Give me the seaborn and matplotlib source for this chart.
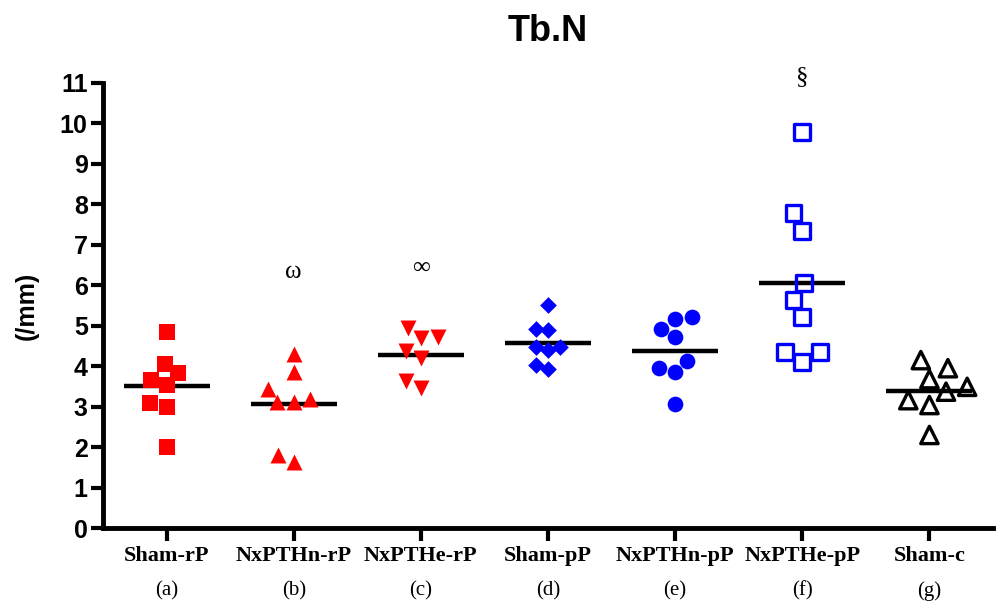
import numpy as np
import pandas as pd
import matplotlib
matplotlib.use("Agg")
import matplotlib.pyplot as plt
import matplotlib.transforms as mtransforms
import seaborn as sns

# ---------- Data ----------
GROUPS = ["Sham-rP", "NxPTHn-rP", "NxPTHe-rP", "Sham-pP", "NxPTHn-pP", "NxPTHe-pP", "Sham-c"]
LETTERS = ["(a)", "(b)", "(c)", "(d)", "(e)", "(f)", "(g)"]

sham_rp = [4.85, 4.05, 3.66, 3.82, 3.54, 3.08, 3.00, 2.01]
nx_n_rp = [4.30, 3.85, 3.44, 3.11, 3.11, 3.19, 1.64, 1.80]
nx_e_rp = [4.71, 4.94, 4.69, 4.38, 4.19, 3.64, 3.45]
sham_pp = [5.51, 4.91, 4.89, 4.40, 4.48, 4.48, 3.93, 4.02]
nx_n_pp = [5.17, 5.21, 4.91, 4.71, 3.96, 3.86, 4.14, 3.06]
nx_e_pp = [9.80, 7.78, 7.35, 6.05, 5.64, 5.21, 4.34, 4.10, 4.34]
sham_c = [4.15, 3.95, 3.68, 3.49, 3.16, 3.37, 3.04, 2.30]

ANNOT_GROUPS = ["NxPTHn-rP", "NxPTHe-rP", "NxPTHe-pP"]
ANNOT_SYMBOLS = ["ω", "∞", "§"]
ANNOT_Y = [6.33, 6.43, 11.15]

# ---------- Styles ----------
MARKERS = ["s", "^", "v", "D", "o", "s", "^"]
COLORS = ["#ff0000", "#ff0000", "#ff0000", "#0000ff", "#0000ff", "#0000ff", "#000000"]
FILLED = [True, True, True, True, True, False, False]
MSIZE = [11.5, 11.5, 11.5, 8.5, 11.3, 11.5, 12.5]

values = [sham_rp, nx_n_rp, nx_e_rp, sham_pp, nx_n_pp, nx_e_pp, sham_c]
df = pd.concat(
    [pd.DataFrame({"group": g, "value": v}) for g, v in zip(GROUPS, values)],
    ignore_index=True,
)

sns.set_style("ticks")
plt.rcParams["font.family"] = ["Liberation Sans", "DejaVu Sans"]
plt.rcParams.update({"text.color": "black", "axes.labelcolor": "black",
                     "xtick.color": "black", "ytick.color": "black",
                     "axes.edgecolor": "black"})

fig = plt.figure(figsize=(9.96, 6.04), dpi=100)
ax = fig.add_axes([103 / 996, 1 - 528 / 604, 890 / 996, 445 / 604])

# mean lines
sns.pointplot(data=df, x="group", y="value", order=GROUPS, estimator="mean",
              errorbar=None, color="black", markers="_", linestyle="none",
              markersize=62, markeredgewidth=3.2, ax=ax, zorder=2)

# points
for g, m, c, filled, ms in zip(GROUPS, MARKERS, COLORS, FILLED, MSIZE):
    sub = df[df["group"] == g]
    kw = dict(marker=m, size=ms, ax=ax, zorder=3)
    if filled:
        sns.swarmplot(data=sub, x="group", y="value", order=GROUPS,
                      color=c, linewidth=0, **kw)
    else:
        sns.swarmplot(data=sub, x="group", y="value", order=GROUPS,
                      color=c, facecolor="none", edgecolor=c, linewidth=2.4, **kw)

ax.set_xlim(-0.5, 6.5)
ax.set_ylim(0, 11)
ax.set_yticks(range(0, 12))
sns.despine(ax=ax)
for side in ["left", "bottom"]:
    ax.spines[side].set_linewidth(3.5)
    ax.spines[side].set_color("black")
ax.tick_params(axis="both", length=9, width=3, color="black", labelcolor="black")
ax.tick_params(axis="y", pad=2)
ax.tick_params(axis="x", pad=4)

for lab in ax.get_yticklabels():
    lab.set_fontsize(18)
    lab.set_fontweight("bold")
ax.set_xticks(range(len(GROUPS)))
ax.set_xticklabels(GROUPS, fontsize=16, fontweight="bold",
                   family=["Liberation Serif", "DejaVu Serif"])
ax.set_xlabel("")

trans = mtransforms.blended_transform_factory(ax.transData, ax.transAxes)
for i, let in enumerate(LETTERS):
    ax.text(i, -0.142, let, transform=trans, ha="center", va="center",
            fontsize=15, family=["Liberation Serif", "DejaVu Serif"])

for g, s, yv in zip(ANNOT_GROUPS, ANNOT_SYMBOLS, ANNOT_Y):
    ax.text(GROUPS.index(g), yv, s, ha="center", va="center", fontsize=18,
            family=["Liberation Serif", "DejaVu Serif"], clip_on=False)

ax.set_ylabel("(/mm)", fontsize=18, fontweight="bold", color="black")
ax.yaxis.set_label_coords(-0.072, 0.5)
ax.set_title("Tb.N", fontsize=26, fontweight="bold", pad=30, color="black")

fig.savefig("out.png", dpi=100)
